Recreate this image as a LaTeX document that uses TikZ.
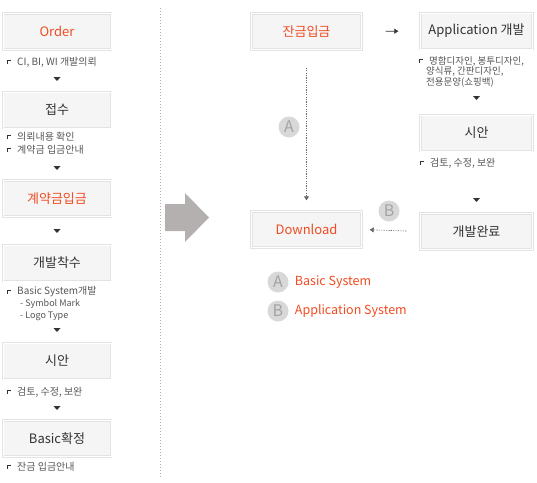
\documentclass[tikz,border=0pt]{standalone}
\usepackage{fontspec}
\setmainfont{Noto Sans CJK KR}
\usetikzlibrary{positioning,arrows.meta,calc}
\definecolor{hiorange}{HTML}{F04B22}
\definecolor{txtdark}{HTML}{333333}
\definecolor{txtgray}{HTML}{555555}
\definecolor{boxfill}{HTML}{F5F5F5}
\definecolor{boxedge}{HTML}{E3E3E3}
\definecolor{bigarrow}{HTML}{B4B0B0}
\definecolor{markfill}{HTML}{D8D8D8}
\definecolor{markletter}{HTML}{A3A3A3}

\tikzset{
  stagebox/.style={fill=boxfill, draw=boxedge, line width=2.4pt,
    postaction={draw=white, line width=0.8pt},
    minimum width=108pt, minimum height=36pt, inner sep=0pt,
    font=\fontsize{13}{15}\selectfont, text=txtdark},
  hot/.style={text=hiorange},
  note/.style={anchor=west, inner sep=0pt, font=\fontsize{10}{11}\selectfont, text=txtgray},
  subnote/.style={note, font=\fontsize{9}{10}\selectfont},
  tightnote/.style={note, font=\fontsize{9.5}{10}\selectfont},
  flowline/.style={txtdark, line width=0.6pt, -{Triangle[length=4pt,width=5pt]}},
  dotflow/.style={flowline, dash pattern=on 1.2pt off 1.2pt, draw=gray!80!black},
  sysbadge/.style={circle, fill=markfill, minimum size=21pt, inner sep=0pt,
    text=markletter, font=\fontsize{16}{16}\selectfont},
  legend/.style={inner sep=0pt, text=hiorange, font=\fontsize{12.5}{14}\selectfont},
  sepline/.style={gray!60, line width=0.6pt, dash pattern=on 1pt off 2pt}
}
\newcommand\notebullet[1]{\draw[txtdark, line width=0.9pt] ($(#1.west)+(-10,2)$) -- ++(0,-4) -- ++(3.5,0);}
\newcommand\downmark[1]{\fill[txtdark] (#1) ++(-3.5,-2) -- ++(7,0) -- ++(-3.5,4) -- cycle;}

\begin{document}
\begin{tikzpicture}[x=1pt, y=-1pt]
  \useasboundingbox (0,0) rectangle (537,482);

  % left column: basic system steps
  \node[stagebox,hot] (order) at (57,31.5) {Order};
  \node[note] (order1) at (17,62) {CI, BI, WI 개발의뢰};
  \notebullet{order1}
  \downmark{57,79}
  \node[stagebox] (accept) at (57,110) {접수};
  \node[note] (accept1) at (17,137) {의뢰내용 확인};
  \node[note] (accept2) at (17,150) {계약금 입금안내};
  \notebullet{accept1}
  \notebullet{accept2}
  \downmark{57,168}
  \node[stagebox,hot] (deposit) at (57,198.5) {계약금입금};
  \downmark{57,231}
  \node[stagebox] (start) at (57,263) {개발착수};
  \node[note] (start1) at (17,292) {Basic System개발};
  \node[subnote] (start2) at (20,304) {- Symbol Mark};
  \node[subnote] (start3) at (20,316) {- Logo Type};
  \notebullet{start1}
  \downmark{57,330}
  \node[stagebox] (draftL) at (57,361) {시안};
  \node[note] (draftL1) at (17,392) {검토, 수정, 보완};
  \notebullet{draftL1}
  \downmark{57,408}
  \node[stagebox] (confirm) at (57,438.5) {Basic확정};
  \node[note] (confirm1) at (17,467) {잔금 입금안내};
  \notebullet{confirm1}

  \draw[sepline] (160,8) -- (160,478);
  \fill[bigarrow] (165,204) -- (185,204) -- (185,193) -- (209,217.5)
    -- (185,242) -- (185,231) -- (165,231) -- cycle;

  % right side
  \node[stagebox,hot,minimum width=110pt] (balance) at (306.5,31.5) {잔금입금};
  \node[stagebox,minimum width=112pt] (appdev) at (476.5,31) {Application 개발};
  \node[tightnote] (appdev1) at (429,61) {명함디자인, 봉투디자인,};
  \node[tightnote] (appdev2) at (426,71.5) {양식류, 간판디자인,};
  \node[tightnote] (appdev3) at (426,82) {전용문양(쇼핑백)};
  \notebullet{appdev1}
  \downmark{476.5,98}
  \node[stagebox,minimum width=112pt] (draftR) at (476.5,133) {시안};
  \node[note] (draftR1) at (430,163) {검토, 수정, 보완};
  \notebullet{draftR1}
  \downmark{476.5,200}
  \node[stagebox,minimum width=112pt] (done) at (476.5,231.5) {개발완료};
  \node[stagebox,hot,minimum width=110pt] (download) at (306.5,229.5) {Download};

  \draw[flowline, shorten <=23pt, shorten >=21pt] (balance) -- (appdev);
  \draw[dotflow, shorten <=17pt, shorten >=10pt] (balance.south) -- (download.north);
  \draw[dotflow, shorten <=13pt, shorten >=7pt] (done.west) -- (download.east);
  \node[sysbadge] (markA) at (289,127) {A};
  \node[sysbadge] (markB) at (389,211) {B};

  % legend
  \node[sysbadge] (legA) at (278,282) {A};
  \node[legend, right=6pt of legA] (legAtxt) {Basic System};
  \node[sysbadge] (legB) at (278,311) {B};
  \node[legend, right=6pt of legB] (legBtxt) {Application System};
\end{tikzpicture}
\end{document}
